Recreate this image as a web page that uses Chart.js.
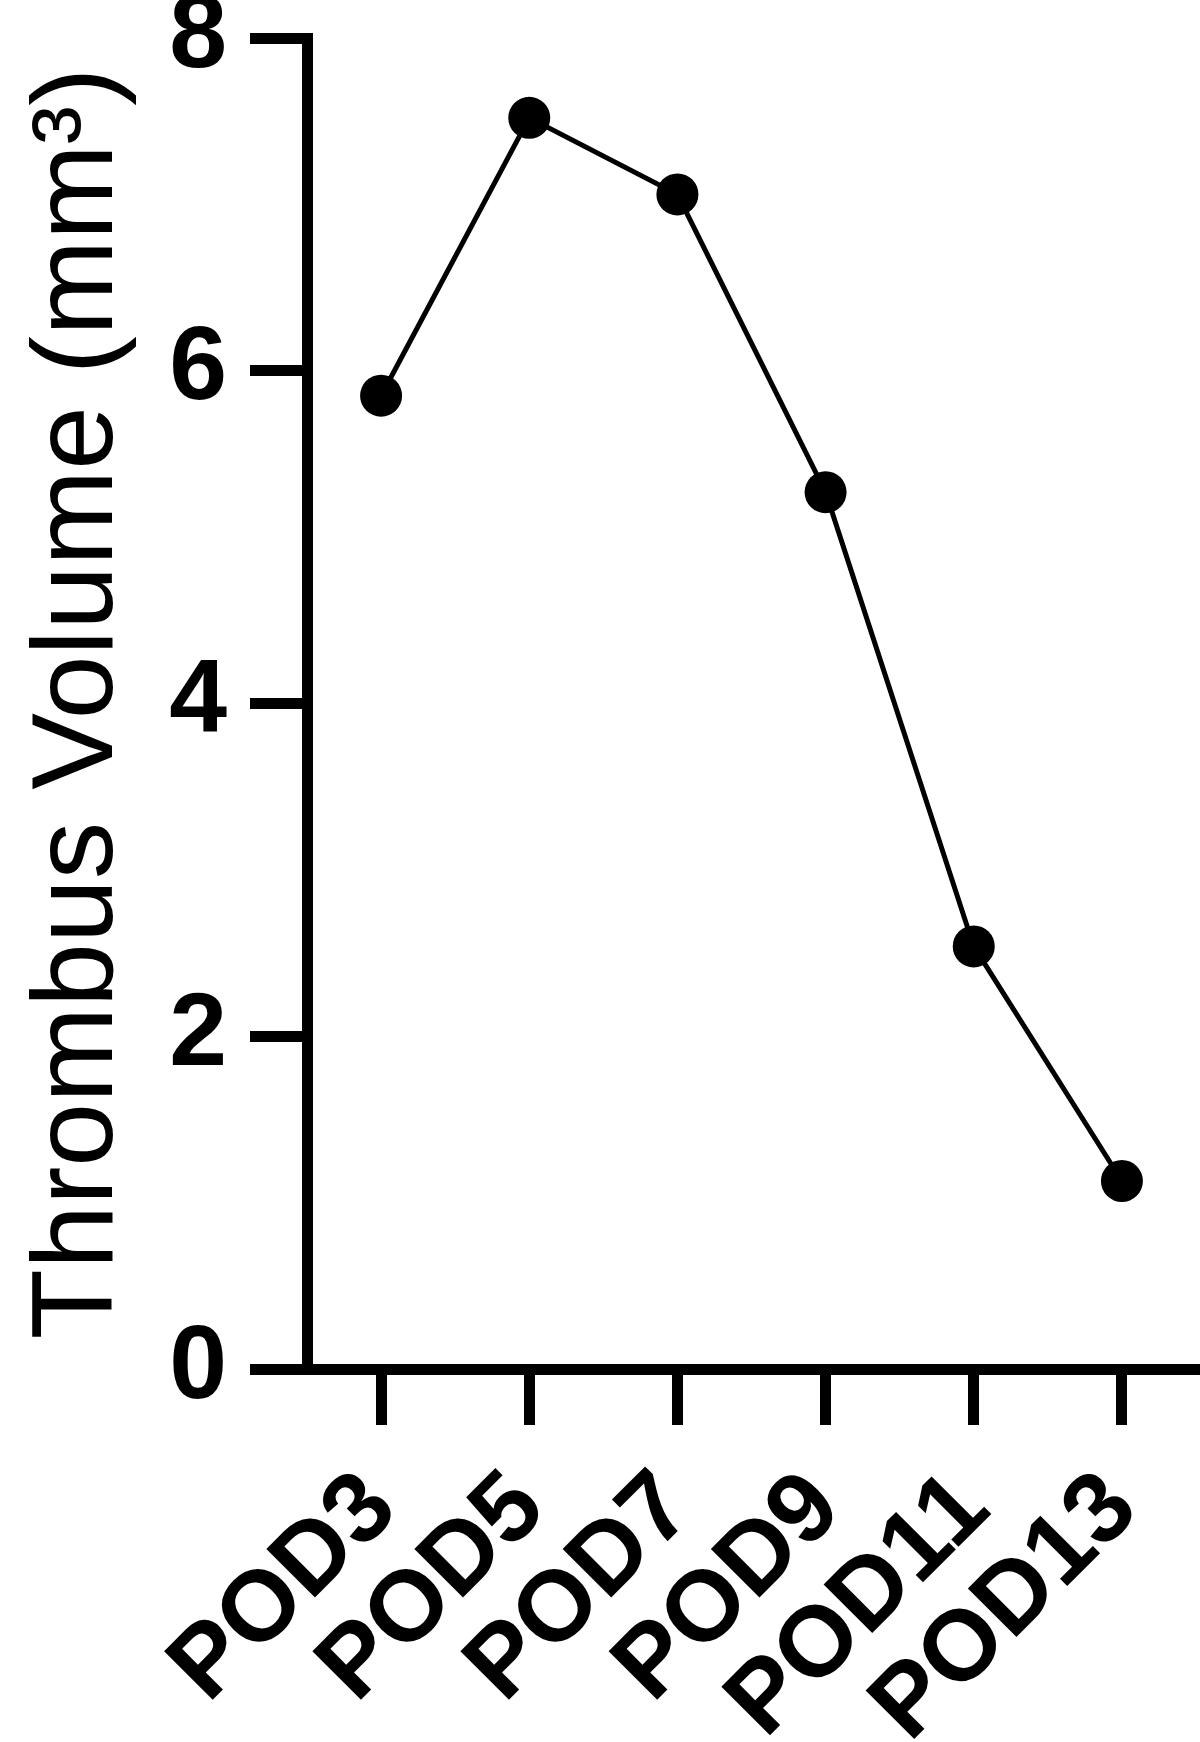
<!DOCTYPE html>
<html>
<head>
<meta charset="utf-8">
<script src="https://cdn.jsdelivr.net/npm/chart.js@4"></script>
<style>
  html, body { margin: 0; padding: 0; background: #fff; }
  #wrap { width: 1200px; height: 1742px; }
</style>
</head>
<body>
<div id="wrap"><canvas id="thrombusChart" width="1200" height="1742"></canvas></div>
<script>
// --- data ---
const days = ['POD3', 'POD5', 'POD7', 'POD9', 'POD11', 'POD13'];
const volume = [5.85, 7.52, 7.06, 5.27, 2.54, 1.13];
const yTicks = [0, 2, 4, 6, 8];
const yTitle = 'Thrombus Volume (mm\u00B3)';

const FONT = "'Liberation Sans', Arial, Helvetica, sans-serif";
const INK = '#000';

const ctx = document.getElementById('thrombusChart').getContext('2d');
new Chart(ctx, {
  type: 'line',
  data: {
    labels: days,
    datasets: [{
      data: volume,
      borderColor: INK,
      backgroundColor: INK,
      borderWidth: 5,
      pointRadius: 21,
      pointBorderWidth: 0,
      pointBackgroundColor: INK,
      tension: 0,
      fill: false
    }]
  },
  options: {
    responsive: false,
    animation: false,
    // no auto padding, otherwise the big markers eat into the right edge
    layout: { autoPadding: false, padding: { top: 38, right: 4, left: 0, bottom: 0 } },
    plugins: { legend: { display: false }, tooltip: { enabled: false } },
    scales: {
      x: {
        offset: true,
        grid: { drawOnChartArea: false, drawTicks: true, tickLength: 56, lineWidth: 11, color: INK },
        border: { display: true, width: 11, color: INK },
        ticks: {
          color: INK,
          font: { family: FONT, size: 100, weight: 'bold' },
          maxRotation: 45, minRotation: 45,
          padding: 25,
          autoSkip: false
        },
        afterFit: (s) => { s.height = 373; s.paddingLeft = 0; s.paddingRight = 0; }
      },
      y: {
        min: 0, max: 8,
        afterBuildTicks: (s) => { s.ticks = yTicks.map(v => ({ value: v })); },
        grid: { drawOnChartArea: false, drawTicks: true, tickLength: 57, lineWidth: 11, color: INK },
        border: { display: true, width: 11, color: INK },
        ticks: {
          color: INK,
          font: { family: FONT, size: 104, weight: 'bold' },
          padding: 23
        },
        title: {
          display: true,
          text: yTitle,
          color: INK,
          font: { family: FONT, size: 115, weight: 'normal' },
          padding: { top: 11, bottom: 0 }
        },
        afterFit: (s) => { s.width = 307; s.paddingTop = 0; s.paddingBottom = 0; }
      }
    }
  }
});
</script>
</body>
</html>
